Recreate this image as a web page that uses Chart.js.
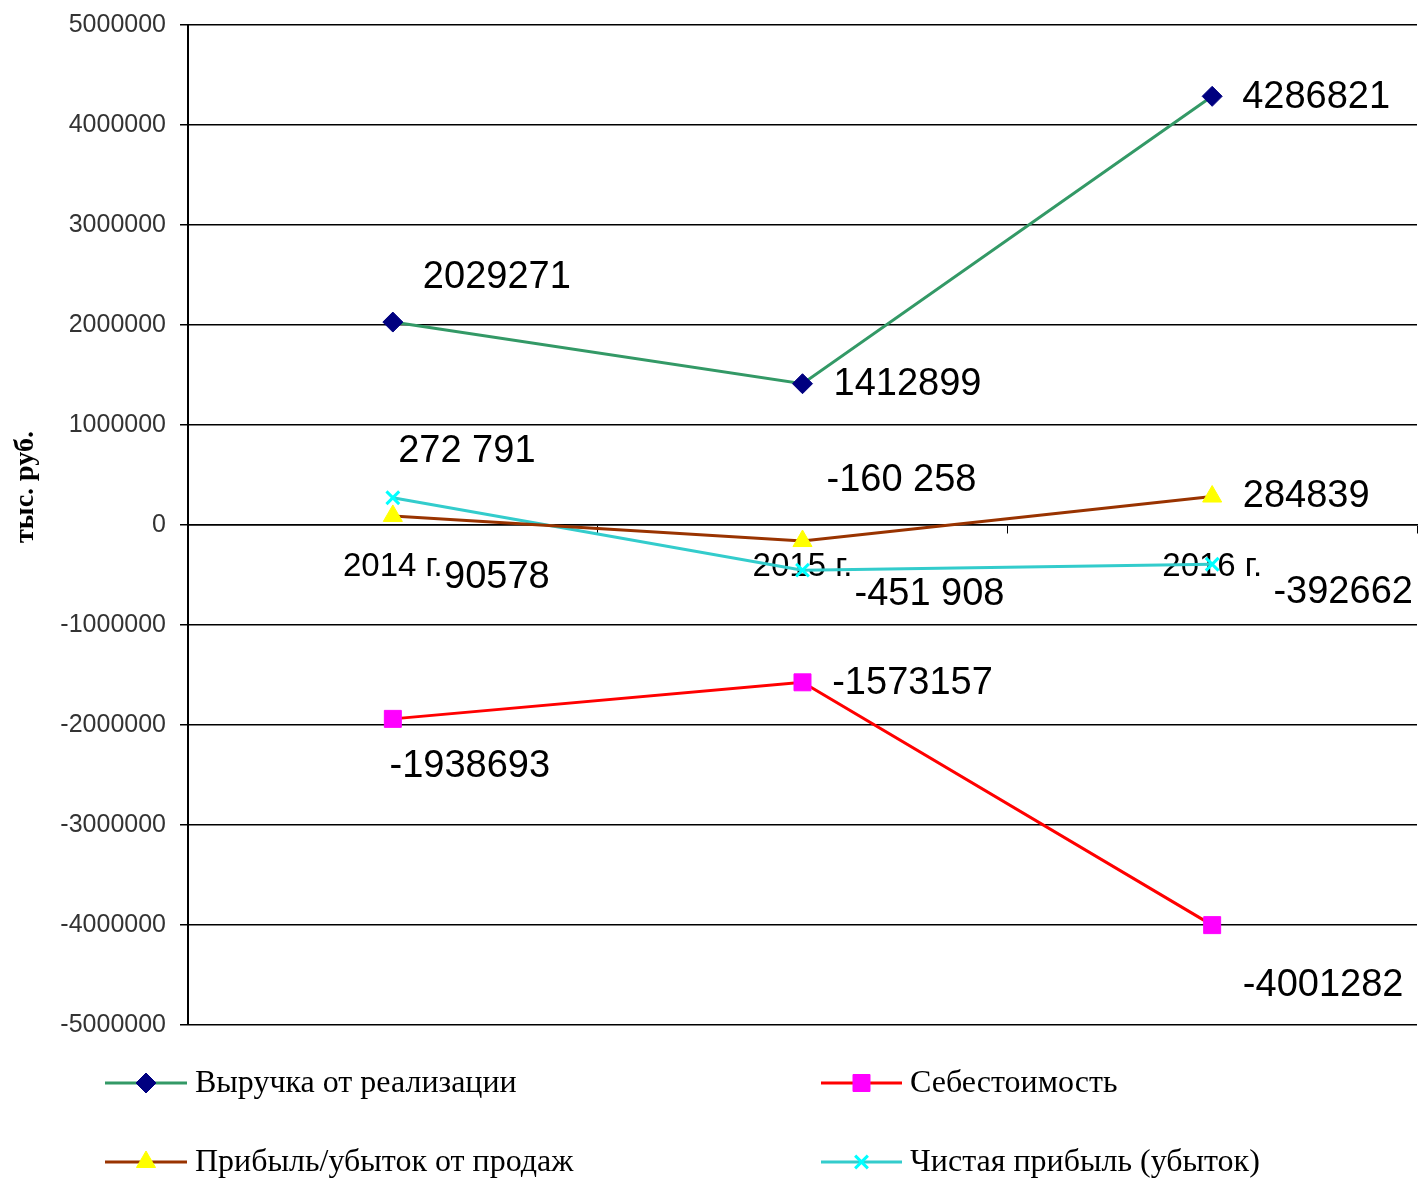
<!DOCTYPE html>
<html lang="ru">
<head>
<meta charset="utf-8">
<title>Финансовые показатели 2014-2016</title>
<script src="https://cdn.jsdelivr.net/npm/chart.js@4.4.1/dist/chart.umd.min.js"></script>
<style>
  html, body { margin: 0; padding: 0; background: #fff; }
  #wrap { width: 1419px; height: 1179px; }
</style>
</head>
<body>
<div id="wrap"><canvas id="chart" width="1419" height="1179"></canvas></div>
<script>
// Данные графика
const years = ['2014 г.', '2015 г.', '2016 г.'];
const revenue = [2029271, 1412899, 4286821];      // Выручка от реализации
const costs = [-1938693, -1573157, -4001282];     // Себестоимость
const salesProfit = [90578, -160258, 284839];     // Прибыль/убыток от продаж
const netProfit = [272791, -451908, -392662];     // Чистая прибыль (убыток)
const yTicks = [-5000000, -4000000, -3000000, -2000000, -1000000, 0, 1000000, 2000000, 3000000, 4000000, 5000000];

// в оригинале часть подписей с пробелом между разрядами
const groupedLabels = [
    [false, false, false],
    [false, false, false],
    [false, true, false],
    [true, true, false]
];

// смещения подписей относительно точки (пиксели)
const labelOffsets = [
    [[104, -45], [105, 1], [104, 1]],
    [[77, 48], [110, 1], [111, 60]],
    [[104, 62], [99, -61], [94, 0]],
    [[74, -46], [127, 24], [131, 28]]
];

function formatLabel(v, grouped) {
    const s = String(Math.abs(v));
    const body = grouped ? s.replace(/\B(?=(\d{3})+(?!\d))/g, ' ') : s;
    return (v < 0 ? '-' : '') + body;
}

// Подписи значений
const dataLabelsPlugin = {
    id: 'dataLabels',
    afterDatasetsDraw(chart) {
        const ctx = chart.ctx;
        ctx.save();
        ctx.font = '38px "Liberation Sans", Arial, sans-serif';
        ctx.fillStyle = '#000';
        ctx.textAlign = 'center';
        ctx.textBaseline = 'middle';
        chart.data.datasets.forEach((ds, i) => {
            chart.getDatasetMeta(i).data.forEach((pt, j) => {
                const off = labelOffsets[i][j];
                ctx.fillText(formatLabel(ds.data[j], groupedLabels[i][j]), pt.x + off[0], pt.y + off[1]);
            });
        });
        ctx.restore();
    }
};

// Легенда и подпись оси
const legendPlugin = {
    id: 'customLegend',
    afterDraw(chart) {
        const ctx = chart.ctx;
        const slots = [
            { x1: 105, x2: 187, y: 1083 },
            { x1: 821, x2: 902, y: 1083 },
            { x1: 105, x2: 187, y: 1162 },
            { x1: 821, x2: 902, y: 1162 }
        ];
        ctx.save();
        chart.data.datasets.forEach((ds, k) => {
            const s = slots[k];
            ctx.strokeStyle = ds.borderColor;
            ctx.lineWidth = 3;
            ctx.beginPath();
            ctx.moveTo(s.x1, s.y);
            ctx.lineTo(s.x2, s.y);
            ctx.stroke();
            const mx = (s.x1 + s.x2) / 2;
            ctx.fillStyle = ds.pointBackgroundColor;
            ctx.strokeStyle = ds.pointBorderColor;
            ctx.lineWidth = ds.pointBorderWidth;
            Chart.helpers.drawPoint(ctx, {
                pointStyle: ds.pointStyle,
                radius: ds.pointRadius,
                borderWidth: ds.pointBorderWidth
            }, mx, s.y);
            ctx.fillStyle = '#000';
            ctx.font = '32px "Liberation Serif", "Times New Roman", serif';
            ctx.textAlign = 'left';
            ctx.textBaseline = 'middle';
            ctx.fillText(ds.label, s.x2 + 8, s.y + 1);
        });

        // подпись оси Y
        ctx.translate(26, 487);
        ctx.rotate(-Math.PI / 2);
        ctx.font = 'bold 28px "Liberation Serif", "Times New Roman", serif';
        ctx.textAlign = 'center';
        ctx.textBaseline = 'middle';
        ctx.fillStyle = '#000';
        ctx.fillText('тыс. руб.', 0, 0);
        ctx.restore();
    }
};

const config = {
    type: 'line',
    data: {
        labels: years,
        datasets: [
            {
                label: 'Выручка от реализации',
                data: revenue,
                borderColor: '#339966',
                borderWidth: 3,
                pointStyle: 'rectRot',
                pointRadius: 10,
                pointBackgroundColor: '#000080',
                pointBorderColor: '#000080',
                pointBorderWidth: 1
            },
            {
                label: 'Себестоимость',
                data: costs,
                borderColor: '#ff0000',
                borderWidth: 3,
                pointStyle: 'rect',
                pointRadius: 12,
                pointBackgroundColor: '#ff00ff',
                pointBorderColor: '#ff00ff',
                pointBorderWidth: 1
            },
            {
                label: 'Прибыль/убыток от продаж',
                data: salesProfit,
                borderColor: '#993300',
                borderWidth: 3,
                pointStyle: 'triangle',
                pointRadius: 11,
                pointBackgroundColor: '#ffff00',
                pointBorderColor: '#ffff00',
                pointBorderWidth: 1
            },
            {
                label: 'Чистая прибыль (убыток)',
                data: netProfit,
                borderColor: '#33cccc',
                borderWidth: 3,
                pointStyle: 'crossRot',
                pointRadius: 9,
                pointBackgroundColor: '#00ffff',
                pointBorderColor: '#00ffff',
                pointBorderWidth: 3
            }
        ]
    },
    options: {
        responsive: false,
        animation: false,
        layout: {
            autoPadding: false,
            padding: { top: 25, right: 2, bottom: 154, left: 0 }
        },
        plugins: {
            legend: { display: false },
            tooltip: { enabled: false }
        },
        scales: {
            x: {
                position: { y: 0 },
                offset: true,
                afterFit(scale) { scale.paddingLeft = 0; scale.paddingRight = 0; },
                grid: {
                    offset: true,
                    drawOnChartArea: false,
                    drawTicks: true,
                    tickLength: 8,
                    color: '#000',
                    lineWidth: 1
                },
                border: { color: '#000', width: 1.5 },
                ticks: {
                    color: '#000',
                    padding: 14,
                    maxRotation: 0,
                    font: { family: '"Liberation Sans", Arial, sans-serif', size: 33 }
                }
            },
            y: {
                min: -5000000,
                max: 5000000,
                afterFit(scale) {
                    scale.width = 188;
                    scale.paddingTop = 0;
                    scale.paddingBottom = 0;
                },
                afterBuildTicks(scale) { scale.ticks = yTicks.map(v => ({ value: v })); },
                grid: {
                    color: '#000',
                    lineWidth: 1.5,
                    tickLength: 8
                },
                border: { color: '#000', width: 2 },
                ticks: {
                    color: '#333',
                    padding: 14,
                    font: { family: '"Liberation Sans", Arial, sans-serif', size: 25 },
                    callback: v => String(v)
                }
            }
        }
    },
    plugins: [dataLabelsPlugin, legendPlugin]
};

const chart = new Chart(document.getElementById('chart'), config);
</script>
</body>
</html>
